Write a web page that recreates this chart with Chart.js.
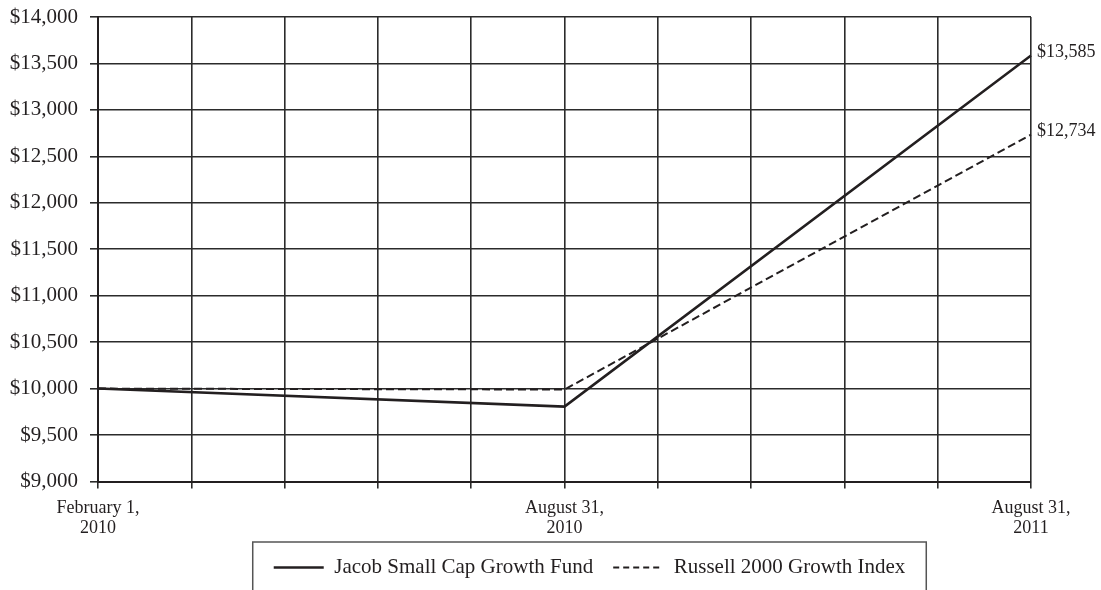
<!DOCTYPE html>
<html>
<head>
<meta charset="utf-8">
<script src="https://cdn.jsdelivr.net/npm/chart.js@4"></script>
<style>
  html, body { margin: 0; padding: 0; background: #ffffff; }
  #wrap { width: 1101px; height: 590px; }
</style>
</head>
<body>
<div id="wrap"><canvas id="c" width="1101" height="590"></canvas></div>
<script>
// ---- data ----
const categories = ['February 1, 2010', 'August 31, 2010', 'August 31, 2011'];
const categorySlots = [0, 5, 10];          // which of the 11 gridline columns each date sits on
const slotCount = 11;
const jacobFund = [10000, 9806, 13585];
const russellIndex = [10000, 9990, 12734];
const seriesNames = ['Jacob Small Cap Growth Fund', 'Russell 2000 Growth Index'];
const yMin = 9000, yMax = 14000, yStep = 500;

// ---- build library tables ----
const labels = Array.from({length: slotCount}, () => '');
categorySlots.forEach((s, i) => {
  const idx = categories[i].lastIndexOf(' ');
  labels[s] = [categories[i].slice(0, idx), categories[i].slice(idx + 1)];
});
function spread(values) {
  const arr = Array.from({length: slotCount}, () => null);
  categorySlots.forEach((s, i) => { arr[s] = values[i]; });
  return arr;
}
const fmt = v => '$' + Number(v).toLocaleString('en-US');

const FONT = 'Liberation Serif, "Times New Roman", serif';
const INK = '#231f20';
const GRID = '#2b2b2b';

const endLabels = {
  id: 'endLabels',
  afterDatasetsDraw(chart) {
    const ctx = chart.ctx;
    ctx.save();
    ctx.font = '18px ' + FONT;
    ctx.fillStyle = INK;
    ctx.textAlign = 'left';
    ctx.textBaseline = 'middle';
    chart.data.datasets.forEach((ds, i) => {
      const meta = chart.getDatasetMeta(i);
      let last = ds.data.length - 1;
      while (last >= 0 && ds.data[last] == null) last--;
      const pt = meta.data[last];
      ctx.fillText(fmt(ds.data[last]), pt.x + 6, pt.y - 3);
    });
    ctx.restore();
  }
};

const legendFrame = {
  id: 'legendFrame',
  afterLayout(chart) {
    const lg = chart.legend;
    lg.left += 74; lg.right += 74;
  },
  afterDraw(chart) {
    const lg = chart.legend;
    const hb = lg.legendHitBoxes;
    if (!hb || !hb.length) return;
    const first = hb[0], last = hb[hb.length - 1];
    const ctx = chart.ctx;
    ctx.save();
    ctx.strokeStyle = '#555555';
    ctx.lineWidth = 1.5;
    const l = first.left - 21, r = last.left + last.width + 21, t = first.top - 15;
    ctx.beginPath();
    ctx.moveTo(l, chart.height + 5);
    ctx.lineTo(l, t);
    ctx.lineTo(r, t);
    ctx.lineTo(r, chart.height + 5);
    ctx.stroke();
    ctx.restore();
  }
};

new Chart(document.getElementById('c'), {
  type: 'line',
  data: {
    labels: labels,
    datasets: [
      {
        label: seriesNames[0],
        data: spread(jacobFund),
        borderColor: INK,
        backgroundColor: INK,
        borderWidth: 2.5,
        pointRadius: 0,
        tension: 0,
        spanGaps: true,
        fill: false
      },
      {
        label: seriesNames[1],
        data: spread(russellIndex),
        borderColor: INK,
        backgroundColor: INK,
        borderWidth: 2,
        borderDash: [8, 4],
        pointRadius: 0,
        tension: 0,
        spanGaps: true,
        fill: false
      }
    ]
  },
  options: {
    responsive: false,
    animation: false,
    devicePixelRatio: 1,
    layout: { padding: { left: 0, right: 70, top: 17, bottom: 2 } },
    plugins: {
      tooltip: { enabled: false },
      legend: {
        position: 'bottom',
        align: 'center',
        labels: {
          usePointStyle: true,
          pointStyle: 'line',
          pointStyleWidth: 50,
          padding: 20,
          color: INK,
          font: { family: FONT, size: 21 },
          generateLabels(chart) {
            const items = Chart.defaults.plugins.legend.labels.generateLabels(chart);
            items.forEach(it => {
              const ds = chart.data.datasets[it.datasetIndex];
              it.lineDash = ds.borderDash ? [6, 4] : [];
              it.lineWidth = ds.borderWidth;
              it.strokeStyle = ds.borderColor;
              it.pointStyle = 'line';
            });
            return items;
          }
        }
      }
    },
    scales: {
      x: {
        type: 'category',
        offset: false,
        afterFit(scale) { scale.height = 55.5; },
        grid: { color: GRID, lineWidth: 1.6, tickLength: 7, drawTicks: true },
        border: { color: INK, width: 2 },
        ticks: {
          autoSkip: false,
          maxRotation: 0,
          minRotation: 0,
          padding: 9,
          color: INK,
          font: { family: FONT, size: 18, lineHeight: 1.15 }
        }
      },
      y: {
        min: yMin,
        max: yMax,
        afterFit(scale) { scale.width = 98; scale.paddingTop = 0; scale.paddingBottom = 0; },
        grid: { color: GRID, lineWidth: 1.6, tickLength: 8 },
        border: { color: INK, width: 2 },
        ticks: {
          stepSize: yStep,
          padding: 12,
          color: INK,
          font: { family: FONT, size: 21 },
          callback: v => fmt(v)
        }
      }
    }
  },
  plugins: [endLabels, legendFrame]
});
</script>
</body>
</html>
